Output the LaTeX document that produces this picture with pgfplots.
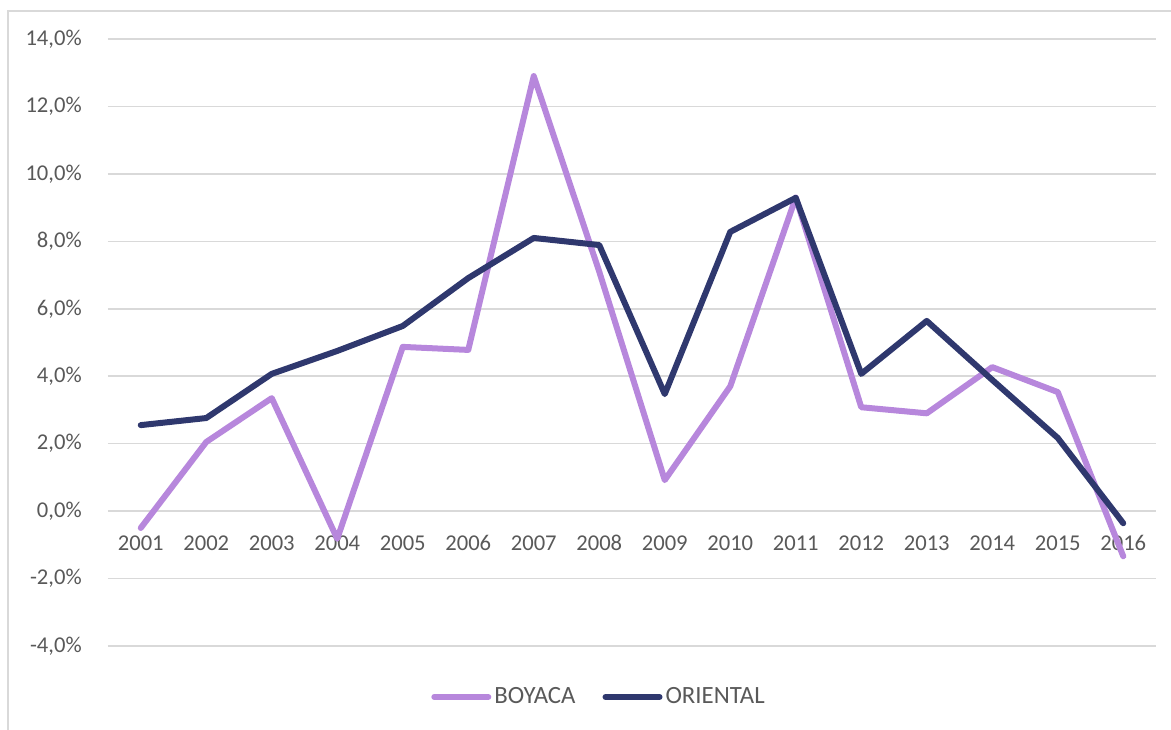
\documentclass[border=0pt]{standalone}
\usepackage{pgfplots}
\pgfplotsset{compat=1.18}
\usepackage{fontspec}
\setmainfont{Carlito}
\definecolor{boy}{RGB}{183,135,220}
\definecolor{ori}{RGB}{47,56,110}
\definecolor{txt}{RGB}{89,89,89}
\definecolor{grd}{RGB}{217,217,217}
\begin{document}
\fontsize{11.3}{13.5}\selectfont
\begin{tikzpicture}
\useasboundingbox (0,0) rectangle (585.5pt,364.5pt);
\draw[grd, line width=1.2pt] (4pt,-5pt) -- (4pt,359pt) -- (600pt,359pt);
\begin{axis}[
  at={(54pt,41.5pt)}, anchor=south west,
  scale only axis, width=524pt, height=303.5pt,
  xmin=-0.5, xmax=15.5, ymin=-4, ymax=14,
  xtick={0,...,15},
  xticklabels={2001,2002,2003,2004,2005,2006,2007,2008,2009,2010,2011,2012,2013,2014,2015,2016},
  ytick={-4,-2,0,2,4,6,8,10,12,14},
  yticklabels={{-4,0\%},{-2,0\%},{0,0\%},{2,0\%},{4,0\%},{6,0\%},{8,0\%},{10,0\%},{12,0\%},{14,0\%}},
  ymajorgrids, major grid style={grd, line width=0.8pt},
  axis line style={draw=none}, tick style={draw=none},
  ticklabel style={font=\fontsize{11.3}{13.5}\selectfont, text=txt},
  xticklabel style={anchor=center, yshift=51.5pt},
  yticklabel style={anchor=east, xshift=-9.2pt},
  legend columns=2,
  legend style={at={(0.469,-0.084)}, anchor=center, draw=none, fill=none,
    font=\fontsize{12.4}{14.5}\selectfont, text=txt,
    /tikz/every even column/.append style={column sep=12pt},
    nodes={inner xsep=1.5pt}},
  legend image code/.code={\draw[#1, line cap=round] (0pt,0pt) -- (27pt,0pt);},
]
\addplot[boy, line width=3pt, line join=round, line cap=round] coordinates {
(0,-0.50) (1,2.05) (2,3.35) (3,-0.82) (4,4.87) (5,4.78) (6,12.9) (7,7.1)
(8,0.92) (9,3.7) (10,9.3) (11,3.08) (12,2.9) (13,4.27) (14,3.53) (15,-1.34)};
\addlegendentry{BOYACA}
\addplot[ori, line width=3pt, line join=round, line cap=round] coordinates {
(0,2.55) (1,2.76) (2,4.07) (3,4.75) (4,5.49) (5,6.91) (6,8.1) (7,7.89)
(8,3.47) (9,8.28) (10,9.29) (11,4.07) (12,5.64) (13,3.89) (14,2.17) (15,-0.36)};
\addlegendentry{ORIENTAL}
\end{axis}
\end{tikzpicture}
\end{document}
